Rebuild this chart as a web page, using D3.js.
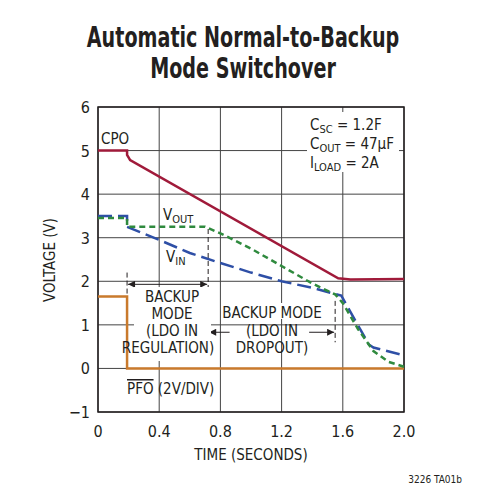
<!DOCTYPE html>
<html><head><meta charset="utf-8">
<script src="https://cdn.jsdelivr.net/npm/d3@7"></script>
<style>
body{margin:0;background:#fff}
text{font-family:"Liberation Sans Narrow","DejaVu Sans Condensed",Arial,sans-serif;fill:#231f20}
</style></head><body>
<svg id="chart" width="486" height="500"></svg>
<script>
const xTicks = [0, 0.4, 0.8, 1.2, 1.6, 2.0];
const yTicks = [-1, 0, 1, 2, 3, 4, 5, 6];
const cpo = [[0,5],[0.19,5],[0.19,4.9],[0.21,4.78],[1.57,2.07],[1.65,2.04],[2.0,2.05]];
const vin = [[0,3.5],[0.19,3.5],[0.19,3.25],[0.4,2.95],[0.6,2.65],[0.8,2.42],[1.0,2.2],[1.2,2.0],[1.4,1.85],[1.59,1.67],[1.77,0.55],[1.8,0.48],[2.0,0.3]];
const vout = [[0,3.45],[0.19,3.45],[0.19,3.25],[0.7,3.25],[0.8,3.1],[1.0,2.75],[1.2,2.35],[1.4,1.95],[1.55,1.7],[1.6,1.5],[1.7,0.9],[1.8,0.4],[1.9,0.15],[2.0,0.04]];
const pfo = [[0,1.65],[0.19,1.65],[0.19,0],[2.0,0]];

const svg = d3.select("#chart");
const x = d3.scaleLinear().domain([0, 2]).range([98, 404]);
const y = d3.scaleLinear().domain([-1, 6]).range([412, 107]);

// Title (squeezed horizontally to look condensed)
const title = svg.append("g").attr("transform", "translate(243,0) scale(0.76,1)");
title.append("text").attr("x", 0).attr("y", 47).attr("text-anchor", "middle")
  .attr("font-size", 28).attr("font-weight", "bold").text("Automatic Normal-to-Backup");
title.append("text").attr("x", 0).attr("y", 78).attr("text-anchor", "middle")
  .attr("font-size", 28).attr("font-weight", "bold").text("Mode Switchover");

// Grid
const g = svg.append("g");
g.selectAll(".gx").data(xTicks).enter().append("line")
  .attr("x1", d => x(d)).attr("x2", d => x(d)).attr("y1", y(6)).attr("y2", y(-1))
  .attr("stroke", "#444").attr("stroke-width", 1);
g.selectAll(".gy").data(yTicks).enter().append("line")
  .attr("x1", x(0)).attr("x2", x(2)).attr("y1", d => y(d)).attr("y2", d => y(d))
  .attr("stroke", "#444").attr("stroke-width", 1);
g.append("rect").attr("x", x(0)).attr("y", y(6)).attr("width", x(2) - x(0)).attr("height", y(-1) - y(6))
  .attr("fill", "none").attr("stroke", "#231f20").attr("stroke-width", 1.5);

// Tick labels
svg.selectAll(".xl").data(xTicks).enter().append("text")
  .attr("x", d => x(d)).attr("y", 437).attr("text-anchor", "middle").attr("font-size", 16)
  .text(d => d === 0 ? "0" : d.toFixed(1));
svg.selectAll(".yl").data(yTicks).enter().append("text")
  .attr("x", 90).attr("y", d => y(d) + 6).attr("text-anchor", "end").attr("font-size", 16)
  .text(d => d < 0 ? "\u2212" + (-d) : d);
svg.append("text").attr("x", 251).attr("y", 460).attr("text-anchor", "middle").attr("font-size", 15)
  .text("TIME (SECONDS)");
svg.append("text").attr("transform", "translate(55,260) rotate(-90)").attr("text-anchor", "middle")
  .attr("font-size", 15).text("VOLTAGE (V)");
svg.append("text").attr("x", 462).attr("y", 483).attr("text-anchor", "end").attr("font-size", 10)
  .text("3226 TA01b");

// Annotation dashed lines and arrows
const ann = svg.append("g").attr("stroke", "#231f20").attr("stroke-width", 1);
const vdash = [[0.19, 2.2, 1.7], [0.72, 3.2, 0.6], [1.55, 1.55, 0.6]];
ann.selectAll(".vd").data(vdash).enter().append("line")
  .attr("x1", d => x(d[0])).attr("x2", d => x(d[0])).attr("y1", d => y(d[1])).attr("y2", d => y(d[2]))
  .attr("stroke-dasharray", "5,3");
const defs = svg.append("defs");
defs.append("marker").attr("id", "ah").attr("viewBox", "0 0 10 10").attr("refX", 10).attr("refY", 5)
  .attr("markerWidth", 10).attr("markerHeight", 7).attr("orient", "auto-start-reverse")
  .attr("markerUnits", "userSpaceOnUse")
  .append("path").attr("d", "M0,0L10,5L0,10Z").attr("fill", "#231f20");
ann.append("line").attr("x1", x(0.19) + 1).attr("x2", x(0.72) - 1).attr("y1", y(1.93)).attr("y2", y(1.93))
  .attr("marker-start", "url(#ah)").attr("marker-end", "url(#ah)");
ann.append("line").attr("x1", x(0.72) + 1).attr("x2", x(0.86)).attr("y1", y(0.83)).attr("y2", y(0.83))
  .attr("marker-start", "url(#ah)");
ann.append("line").attr("x1", x(1.38)).attr("x2", x(1.55) - 1).attr("y1", y(0.83)).attr("y2", y(0.83))
  .attr("marker-end", "url(#ah)");

// Curves
const line = d3.line().x(d => x(d[0])).y(d => y(d[1]));
svg.append("path").datum(pfo).attr("d", line).attr("fill", "none").attr("stroke", "#c97a2c").attr("stroke-width", 2.5);
svg.append("path").datum(cpo).attr("d", line).attr("fill", "none").attr("stroke", "#a01a3a").attr("stroke-width", 2.5);
svg.append("path").datum(vin).attr("d", line).attr("fill", "none").attr("stroke", "#2e4fa6").attr("stroke-width", 2.5)
  .attr("stroke-dasharray", "14,6");
svg.append("path").datum(vout).attr("d", line).attr("fill", "none").attr("stroke", "#2f8a3e").attr("stroke-width", 2.5)
  .attr("stroke-dasharray", "6,4");

// Labels inside plot
const lab = (tx, ty, s, anchor) => svg.append("text").attr("x", tx).attr("y", ty)
  .attr("text-anchor", anchor || "start").attr("font-size", 15).text(s);
const bg = (bx, by, w, h) => svg.append("rect").attr("x", bx).attr("y", by).attr("width", w).attr("height", h).attr("fill", "#fff");

lab(101, 144, "CPO");
bg(307, 112, 92, 60);
let t = svg.append("text").attr("x", 310).attr("y", 130).attr("font-size", 15);
t.append("tspan").text("C"); t.append("tspan").attr("font-size", 11).attr("dy", 3).text("SC");
t.append("tspan").attr("dy", -3).text(" = 1.2F");
t = svg.append("text").attr("x", 310).attr("y", 149).attr("font-size", 15);
t.append("tspan").text("C"); t.append("tspan").attr("font-size", 11).attr("dy", 3).text("OUT");
t.append("tspan").attr("dy", -3).text(" = 47\u00b5F");
t = svg.append("text").attr("x", 310).attr("y", 168).attr("font-size", 15);
t.append("tspan").text("I"); t.append("tspan").attr("font-size", 11).attr("dy", 3).text("LOAD");
t.append("tspan").attr("dy", -3).text(" = 2A");

t = svg.append("text").attr("x", 163).attr("y", 220).attr("font-size", 15);
t.append("tspan").text("V"); t.append("tspan").attr("font-size", 11).attr("dy", 3).text("OUT");
t = svg.append("text").attr("x", 166).attr("y", 262).attr("font-size", 15);
t.append("tspan").text("V"); t.append("tspan").attr("font-size", 11).attr("dy", 3).text("IN");

bg(134, 287, 77, 74);
lab(172, 302, "BACKUP", "middle");
lab(172, 319, "MODE", "middle");
lab(172, 336, "(LDO IN", "middle");
lab(168, 353, "REGULATION)", "middle");
bg(225, 303, 95, 16);
lab(272, 318, "BACKUP MODE", "middle");
lab(272, 336, "(LDO IN", "middle");
lab(272, 353, "DROPOUT)", "middle");

t = svg.append("text").attr("x", 127).attr("y", 394).attr("font-size", 15);
t.append("tspan").text("PFO").attr("text-decoration", "overline");
t.append("tspan").text(" (2V/DIV)");
</script></body></html>
